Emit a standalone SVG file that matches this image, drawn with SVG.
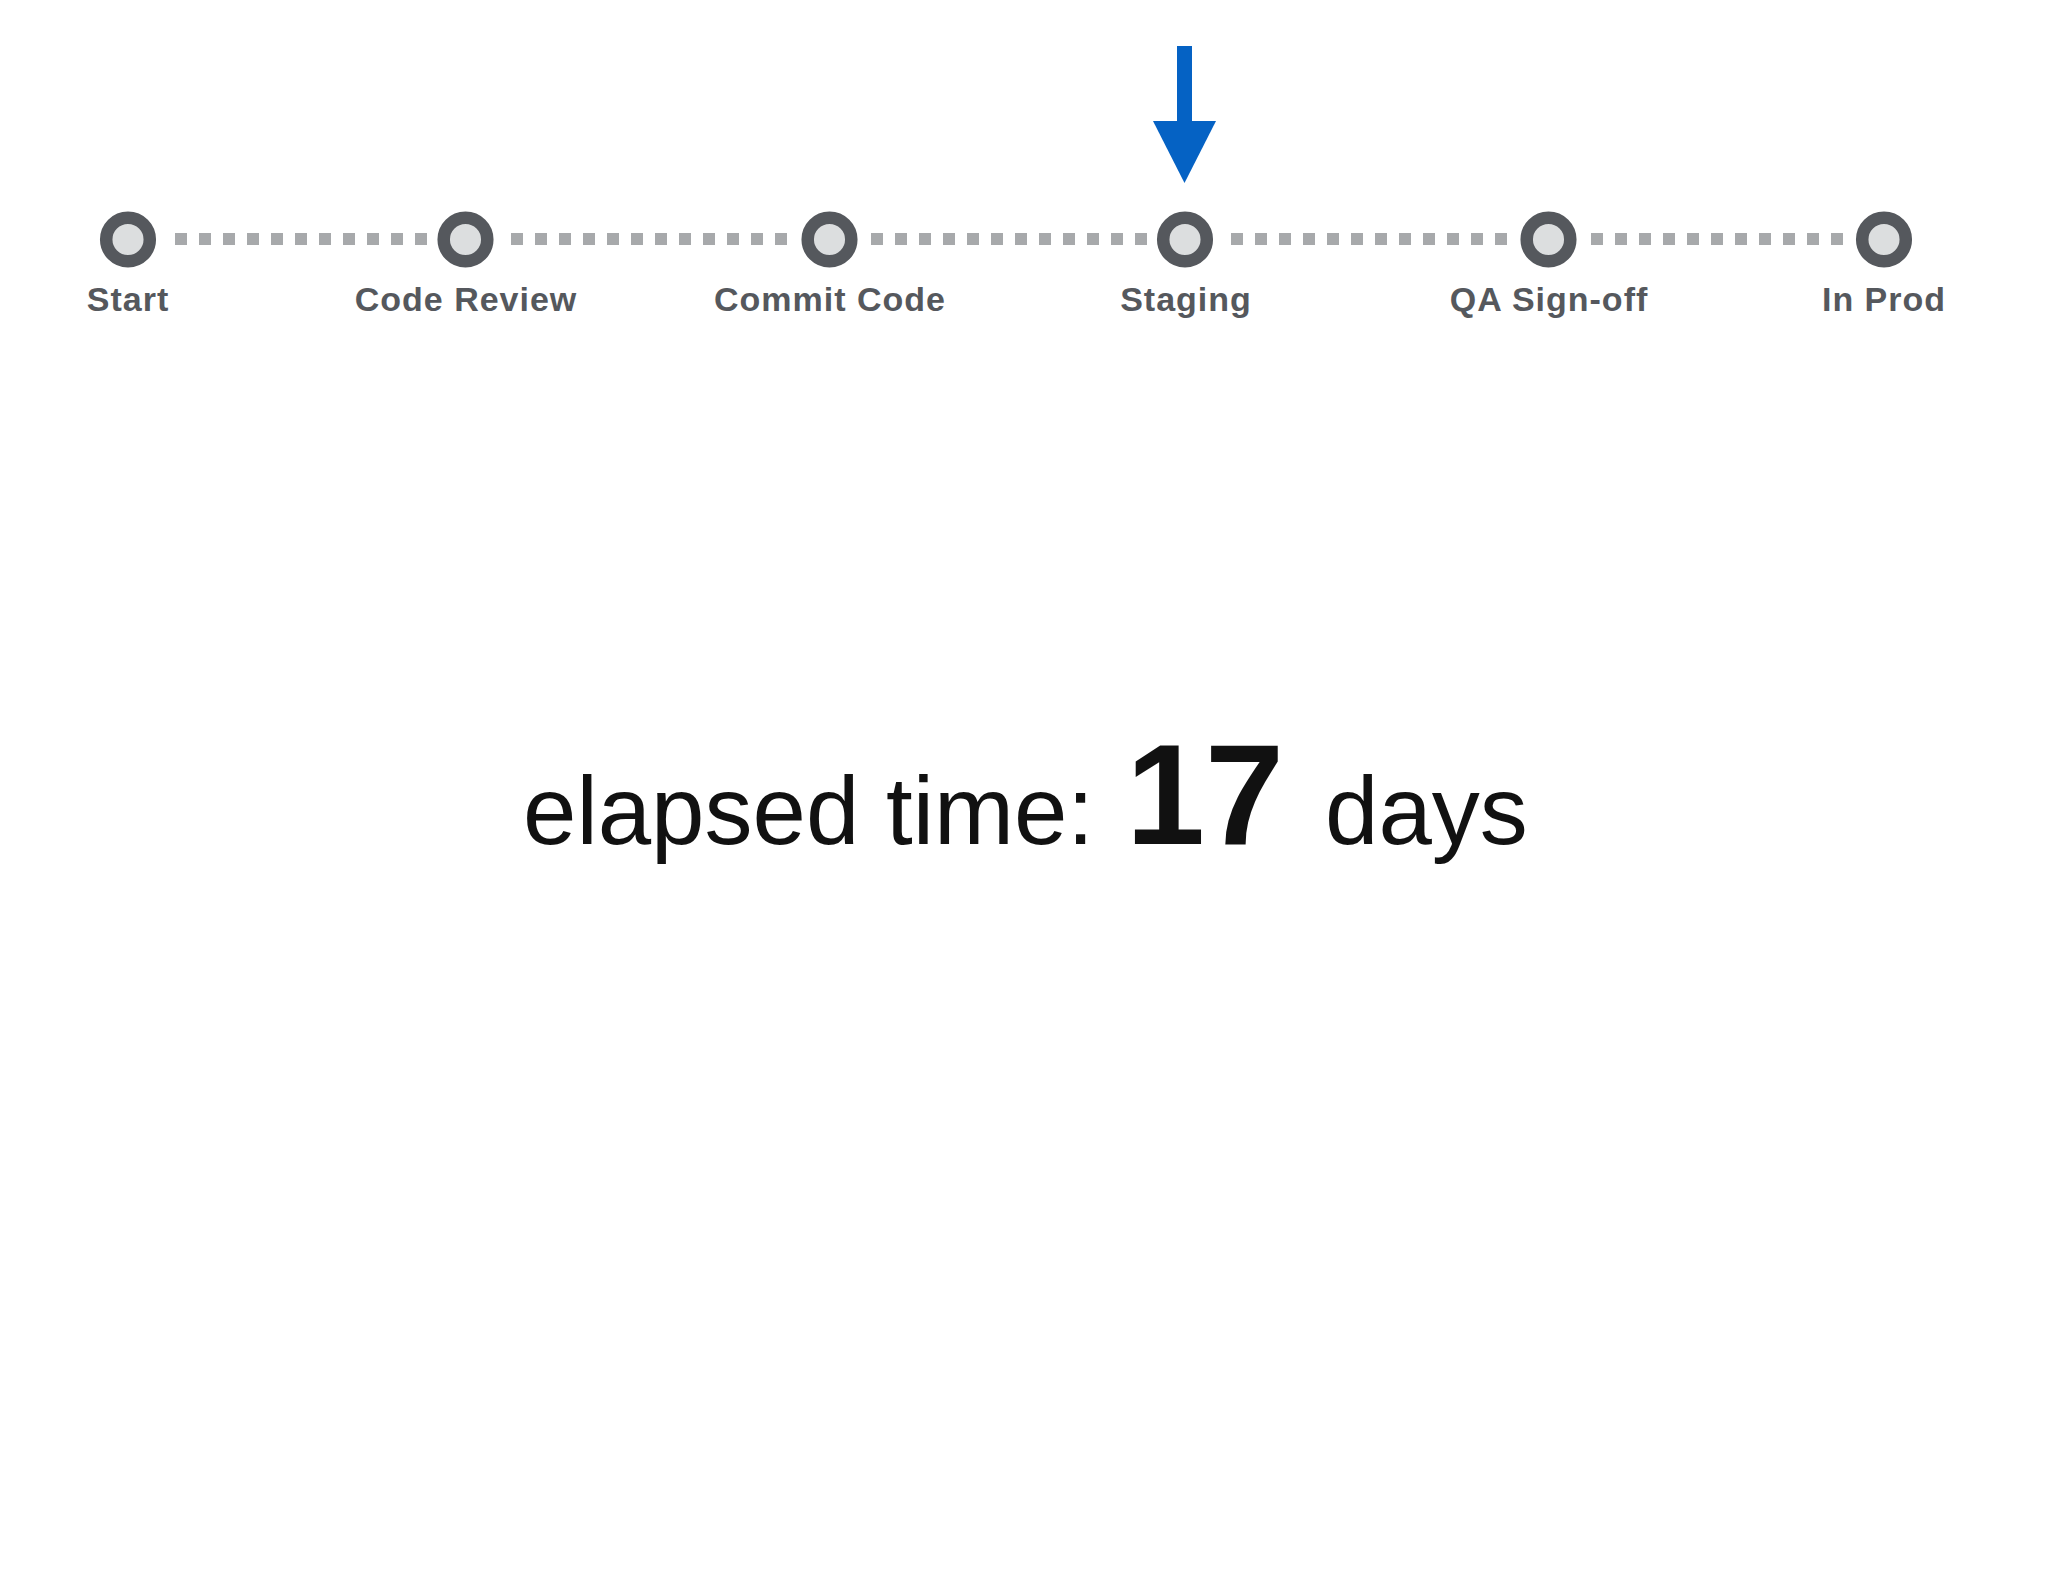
<svg xmlns="http://www.w3.org/2000/svg" width="2048" height="1582" viewBox="0 0 2048 1582">
<style>
.ring{fill:#dcdedf;stroke:#55585d;stroke-width:12.5}
.lbl{font-family:"Liberation Sans",Arial,sans-serif;font-weight:bold;font-size:34px;fill:#55585d;text-anchor:middle;letter-spacing:1px}
.dash{stroke:#a7a9ab;stroke-width:12;stroke-dasharray:12 12;fill:none}
.big{font-family:"Liberation Sans",Arial,sans-serif;fill:#111;font-size:96px}
.num{font-family:"Liberation Sans",Arial,sans-serif;fill:#111;font-size:142px;font-weight:bold}
</style>
<rect width="2048" height="1582" fill="#ffffff"/>
<g id="connectors">
<line class="dash" x1="175" y1="239" x2="439" y2="239"/>
<line class="dash" x1="511" y1="239" x2="799" y2="239"/>
<line class="dash" x1="871" y1="239" x2="1159" y2="239"/>
<line class="dash" x1="1231" y1="239" x2="1519" y2="239"/>
<line class="dash" x1="1591" y1="239" x2="1855" y2="239"/>
</g>
<g id="pointer">
<rect x="1177" y="46" width="15" height="76" fill="#0562c4"/>
<polygon points="1153,121 1216,121 1184.5,183" fill="#0562c4"/>
</g>
<g id="node-start">
<circle class="ring" cx="128" cy="239.5" r="21.8"/>
<text class="lbl" x="128" y="311">Start</text>
</g>
<g id="node-code-review">
<circle class="ring" cx="465.5" cy="239.5" r="21.8"/>
<text class="lbl" x="466" y="311">Code Review</text>
</g>
<g id="node-commit-code">
<circle class="ring" cx="829.5" cy="239.5" r="21.8"/>
<text class="lbl" x="830" y="311">Commit Code</text>
</g>
<g id="node-staging">
<circle class="ring" cx="1185" cy="239.5" r="21.8"/>
<text class="lbl" x="1186" y="311">Staging</text>
</g>
<g id="node-qa-sign-off">
<circle class="ring" cx="1548.5" cy="239.5" r="21.8"/>
<text class="lbl" x="1549" y="311">QA Sign-off</text>
</g>
<g id="node-in-prod">
<circle class="ring" cx="1884" cy="239.5" r="21.8"/>
<text class="lbl" x="1884" y="311">In Prod</text>
</g>
<g id="elapsed">
<text class="big" x="523" y="844">elapsed time:</text>
<text class="num" x="1126" y="844">17</text>
<text class="big" x="1325" y="844">days</text>
</g>
</svg>
